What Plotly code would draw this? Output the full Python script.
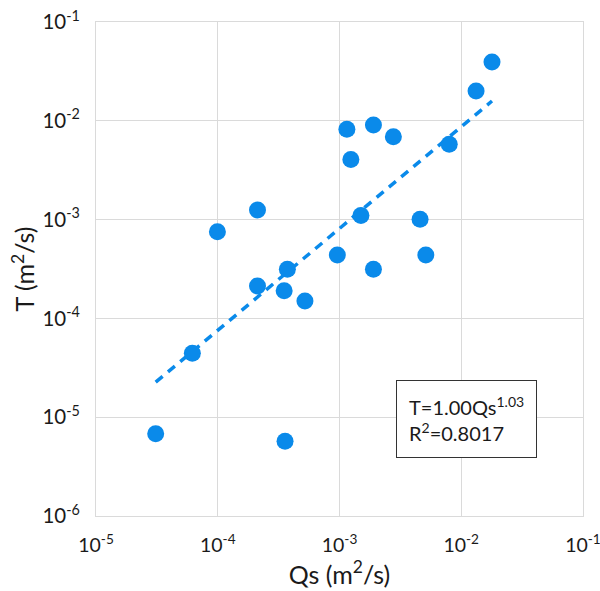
import numpy as np
import plotly.graph_objects as go

qs = [0.0179, 0.01324, 0.00115, 0.0019, 0.00277, 0.00124, 0.00797, 0.0015, 0.00459,
      0.00096, 0.00512, 0.0019, 0.00052, 0.000212, 0.0000993, 0.000373, 0.000212,
      0.000351, 0.0000618, 0.0000309, 0.000357]
t = [0.0394, 0.0200, 0.0082, 0.00906, 0.0069, 0.00407, 0.00578, 0.0011, 0.00101,
     0.000438, 0.000438, 0.000314, 0.000150, 0.00125, 0.000755, 0.000314, 0.000213,
     0.00019, 0.0000443, 0.0000068, 0.0000057]

fit_coef = 1.00
fit_exp = 1.03
r2 = 0.8017

tick_vals = [1e-5, 1e-4, 1e-3, 1e-2, 1e-1]
tick_text_x = ["10<sup>-5</sup>", "10<sup>-4</sup>", "10<sup>-3</sup>", "10<sup>-2</sup>", "10<sup>-1</sup>"]
ytick_vals = [1e-6, 1e-5, 1e-4, 1e-3, 1e-2, 1e-1]
ytick_text = ["10<sup>-6</sup>", "10<sup>-5</sup>", "10<sup>-4</sup>", "10<sup>-3</sup>", "10<sup>-2</sup>", "10<sup>-1</sup>"]

blue = "#0A8AEA"
font = "Lato, Carlito, Calibri, sans-serif"
tcol = "#1a1a1a"

fx = np.array([min(qs), max(qs)])
fy = fit_coef * fx ** fit_exp

fig = go.Figure()
fig.add_trace(go.Scatter(x=fx, y=fy, mode="lines",
                         line=dict(color=blue, width=3.5, dash="9px,7px"),
                         showlegend=False, hoverinfo="skip"))
fig.add_trace(go.Scatter(x=qs, y=t, mode="markers",
                         marker=dict(color=blue, size=17, line=dict(width=0)),
                         showlegend=False))

grid = "#DADADA"
fig.update_xaxes(type="log", range=[-5.0005, -0.9995], tickvals=tick_vals, ticktext=tick_text_x,
                 showgrid=True, gridcolor=grid, gridwidth=1,
                 showline=True, linecolor=grid, linewidth=1, mirror=True,
                 zeroline=False, ticks="", ticklabelstandoff=12, ticklabeloverflow="allow",
                 automargin=False,
                 tickfont=dict(family=font, size=19.5, color=tcol),
                 title=dict(text="Qs (m<sup>2</sup>/s)", font=dict(family=font, size=25, color=tcol), standoff=6))
fig.update_yaxes(type="log", range=[-6.0005, -0.9995], tickvals=ytick_vals, ticktext=ytick_text,
                 showgrid=True, gridcolor=grid, gridwidth=1,
                 showline=True, linecolor=grid, linewidth=1, mirror=True,
                 zeroline=False, ticks="", ticklabelstandoff=11, ticklabeloverflow="allow",
                 automargin=False,
                 tickfont=dict(family=font, size=20.5, color=tcol),
                 title=dict(text="T (m<sup>2</sup>/s)", font=dict(family=font, size=25, color=tcol), standoff=0))

fig.add_annotation(xref="paper", yref="paper", x=0.617, y=0.276, xanchor="left", yanchor="top",
                   text=f"T={fit_coef:.2f}Qs<sup>{fit_exp:.2f}</sup><br>R<sup>2</sup>={r2:.4f}",
                   align="left", showarrow=False,
                   font=dict(family=font, size=20, color=tcol),
                   bordercolor="#333", borderwidth=1, borderpad=12, bgcolor="white")

fig.update_layout(width=600, height=591, margin=dict(l=96, r=17, t=22, b=75),
                  plot_bgcolor="white", paper_bgcolor="white")

fig.write_html("out.html")
